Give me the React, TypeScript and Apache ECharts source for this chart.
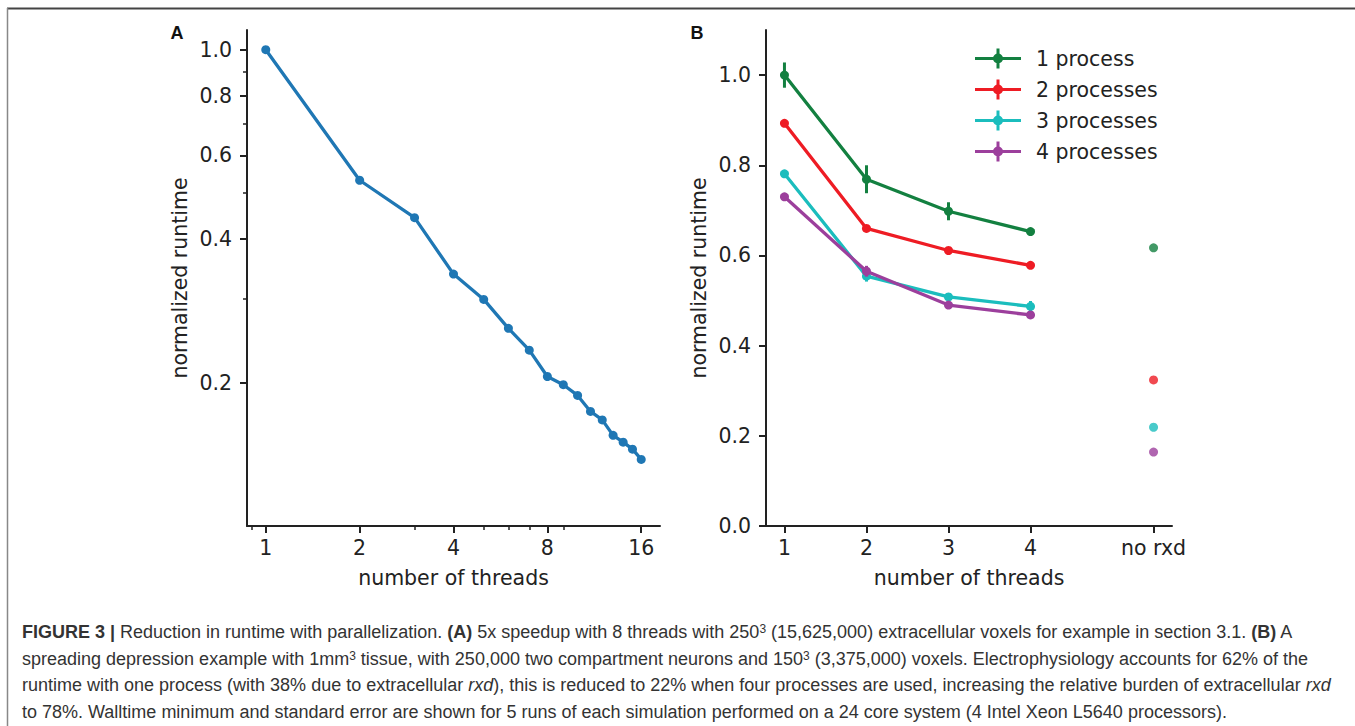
import React, { useEffect, useRef } from 'react';
import * as echarts from 'echarts';

// ---------- Panel A data (log-log) ----------
const threadsA = [1, 2, 3, 4, 5, 6, 7, 8, 9, 10, 11, 12, 13, 14, 15, 16];
const runtimeA = [1.0, 0.532, 0.444, 0.338, 0.299, 0.26, 0.234, 0.206, 0.198, 0.188, 0.174, 0.167, 0.155, 0.15, 0.145, 0.138];
const xTicksA = [1, 2, 4, 8, 16];
const xMinorA = [0.9, 3, 5, 6, 7, 9];
const yTicksA = [0.2, 0.4, 0.6, 0.8, 1.0];
const yMinorA = [0.3, 0.5, 0.7, 0.9];

// ---------- Panel B data ----------
const threadsB = [1, 2, 3, 4];
const noRxdX = 5.5;
const xTicksB = [1, 2, 3, 4, 5.5];
const xLabelsB = ['1', '2', '3', '4', 'no rxd'];
const yTicksB = [0, 0.2, 0.4, 0.6, 0.8, 1.0];
const seriesNames = ['1 process', '2 processes', '3 processes', '4 processes'];
const seriesColors = ['#138040', '#ee1c24', '#1bbdbd', '#9c3f9c'];
const proc1 = [1.0, 0.769, 0.698, 0.653];
const proc2 = [0.893, 0.66, 0.611, 0.578];
const proc3 = [0.781, 0.554, 0.508, 0.487];
const proc4 = [0.73, 0.565, 0.49, 0.468];
const err1 = [0.028, 0.031, 0.02, 0.004];
const err2 = [0.004, 0.004, 0.004, 0.004];
const err3 = [0.004, 0.012, 0.008, 0.012];
const err4 = [0.004, 0.012, 0.005, 0.005];
const noRxd = [0.617, 0.324, 0.219, 0.164];

const captionLines = [
  '{b|FIGURE 3 |} Reduction in runtime with parallelization. {b|(A)} 5x speedup with 8 threads with 250{sup|3} (15,625,000) extracellular voxels for example in section 3.1. {b|(B)} A',
  'spreading depression example with 1mm{sup|3} tissue, with 250,000 two compartment neurons and 150{sup|3} (3,375,000) voxels. Electrophysiology accounts for 62% of the',
  'runtime with one process (with 38% due to extracellular {i|rxd}), this is reduced to 22% when four processes are used, increasing the relative burden of extracellular {i|rxd}',
  'to 78%. Walltime minimum and standard error are shown for 5 runs of each simulation performed on a 24 core system (4 Intel Xeon L5640 processors).',
];

const FONT = 'DejaVu Sans';
const CAP_FONT = 'Liberation Sans';
const CAP_FS = 18;
const FS = 20.5;
const INK = '#222';

const procs = [proc1, proc2, proc3, proc4];
const errs = [err1, err2, err3, err4];

const legendIcon =
  'path://M0 8.5H46V11.5H0Z M21.5 0H24.5V20H21.5Z M18 10A5 5 0 1 1 28 10A5 5 0 1 1 18 10Z';

function axisBase(extra: any) {
  return {
    splitLine: { show: false },
    axisLine: { show: true, onZero: false, lineStyle: { color: INK, width: 2 } },
    nameTextStyle: { fontFamily: FONT, fontSize: FS, color: INK },
    ...extra,
  };
}

function buildOption() {
  const capRich = {
    b: { fontFamily: CAP_FONT, fontSize: CAP_FS, fontWeight: 'bold', color: '#222' },
    i: { fontFamily: CAP_FONT, fontSize: CAP_FS, fontStyle: 'italic', color: '#333' },
    sup: { fontFamily: CAP_FONT, fontSize: 12, color: '#333', verticalAlign: 'top', lineHeight: 12 },
  };
  const capY = [632, 658.5, 685, 711.5];

  const lineSeries = seriesNames.map((name, k) => ({
    name,
    type: 'line',
    xAxisIndex: 2,
    yAxisIndex: 2,
    data: threadsB.map((t, i) => [t, procs[k][i]]),
    symbol: 'circle',
    symbolSize: 9,
    showSymbol: true,
    color: seriesColors[k],
    lineStyle: { width: 3.3, color: seriesColors[k] },
    itemStyle: { color: seriesColors[k] },
    z: 3 + k,
  }));
  const errSeries = seriesNames.map((name, k) => ({
    name: name + ' error',
    type: 'custom',
    xAxisIndex: 2,
    yAxisIndex: 2,
    encode: { x: 0, y: [1, 2] },
    data: threadsB.map((t, i) => [t, procs[k][i] - errs[k][i], procs[k][i] + errs[k][i]]),
    renderItem: (params: any, api: any) => {
      const p1 = api.coord([api.value(0), api.value(1)]);
      const p2 = api.coord([api.value(0), api.value(2)]);
      return {
        type: 'line',
        shape: { x1: p1[0], y1: p1[1], x2: p2[0], y2: p2[1] },
        style: { stroke: seriesColors[k], lineWidth: 3 },
      };
    },
    z: 3 + k,
  }));
  const noRxdSeries = seriesNames.map((name, k) => ({
    name: name + ' no rxd',
    type: 'scatter',
    xAxisIndex: 2,
    yAxisIndex: 2,
    data: [[noRxdX, noRxd[k]]],
    symbol: 'circle',
    symbolSize: 9,
    itemStyle: { color: seriesColors[k] },
    z: 3 + k,
  }));

  return {
    animation: false,
    backgroundColor: '#fff',
    grid: [
      { left: 247, top: 30, width: 413, height: 496, outerBoundsMode: 'none' },
      { left: 766, top: 30, width: 406, height: 496, outerBoundsMode: 'none' },
    ],
    legend: {
      data: seriesNames.map((n) => ({ name: n, icon: legendIcon })),
      orient: 'vertical',
      left: 970,
      top: 43,
      itemWidth: 46,
      itemHeight: 20,
      itemGap: 10,
      selectedMode: false,
      itemStyle: { borderWidth: 0 },
      textStyle: { fontFamily: FONT, fontSize: FS, color: INK, padding: [0, 0, 0, 10] },
    },
    xAxis: [
      axisBase({
        gridIndex: 0,
        type: 'log',
        logBase: 2,
        min: Math.pow(2, -0.2),
        max: Math.pow(2, 4.2),
        position: 'bottom',
        name: 'number of threads',
        nameLocation: 'middle',
        nameGap: 41,
        axisTick: { show: true, customValues: xTicksA, length: 7, lineStyle: { color: INK, width: 2 } },
        axisLabel: {
          customValues: xTicksA,
          formatter: (v: number) => String(Math.round(v)),
          fontFamily: FONT,
          fontSize: FS,
          color: INK,
          margin: 11,
        },
      }),
      {
        gridIndex: 0,
        type: 'log',
        logBase: 2,
        min: Math.pow(2, -0.2),
        max: Math.pow(2, 4.2),
        position: 'bottom',
        splitLine: { show: false },
        axisLine: { show: false, onZero: false },
        axisLabel: { show: false },
        axisTick: { show: true, customValues: xMinorA, length: 4, lineStyle: { color: INK, width: 1.5 } },
      },
      axisBase({
        gridIndex: 1,
        type: 'value',
        min: 0.775,
        max: 5.725,
        position: 'bottom',
        name: 'number of threads',
        nameLocation: 'middle',
        nameGap: 41,
        axisTick: { show: true, customValues: xTicksB, length: 7, lineStyle: { color: INK, width: 2 } },
        axisLabel: {
          customValues: xTicksB,
          formatter: (v: number) => {
            const idx = xTicksB.findIndex((t) => Math.abs(t - v) < 1e-6);
            return idx >= 0 ? xLabelsB[idx] : '';
          },
          fontFamily: FONT,
          fontSize: FS,
          color: INK,
          margin: 11,
        },
      }),
    ],
    yAxis: [
      axisBase({
        gridIndex: 0,
        type: 'log',
        logBase: 10,
        min: 0.1,
        max: 1.1,
        position: 'left',
        name: 'normalized runtime',
        nameLocation: 'middle',
        nameGap: 57,
        axisTick: { show: true, customValues: yTicksA, length: 7, lineStyle: { color: INK, width: 2 } },
        axisLabel: {
          customValues: yTicksA,
          formatter: (v: number) => v.toFixed(1),
          fontFamily: FONT,
          fontSize: FS,
          color: INK,
          margin: 15,
        },
      }),
      {
        gridIndex: 0,
        type: 'log',
        logBase: 10,
        min: 0.1,
        max: 1.1,
        position: 'left',
        splitLine: { show: false },
        axisLine: { show: false, onZero: false },
        axisLabel: { show: false },
        axisTick: { show: true, customValues: yMinorA, length: 4, lineStyle: { color: INK, width: 1.5 } },
      },
      axisBase({
        gridIndex: 1,
        type: 'value',
        min: 0,
        max: 1.1,
        position: 'left',
        name: 'normalized runtime',
        nameLocation: 'middle',
        nameGap: 57,
        axisTick: { show: true, customValues: yTicksB, length: 7, lineStyle: { color: INK, width: 2 } },
        axisLabel: {
          customValues: yTicksB,
          formatter: (v: number) => v.toFixed(1),
          fontFamily: FONT,
          fontSize: FS,
          color: INK,
          margin: 15,
        },
      }),
    ],
    series: [
      {
        name: 'runtime A',
        type: 'line',
        xAxisIndex: 0,
        yAxisIndex: 0,
        data: threadsA.map((t, i) => [t, runtimeA[i]]),
        symbol: 'circle',
        symbolSize: 9,
        color: '#1f77b4',
        lineStyle: { width: 3.3, color: '#1f77b4' },
        itemStyle: { color: '#1f77b4' },
      },
      ...lineSeries,
      ...errSeries,
      ...noRxdSeries,
    ],
    graphic: [
      { type: 'line', shape: { x1: 7, y1: 8.5, x2: 1355, y2: 8.5 }, style: { stroke: '#444', lineWidth: 2 } },
      { type: 'line', shape: { x1: 7.5, y1: 8, x2: 7.5, y2: 726 }, style: { stroke: '#888', lineWidth: 1.5 } },
      {
        type: 'text',
        x: 177,
        y: 33,
        style: { text: 'A', fontFamily: CAP_FONT, fontWeight: 'bold', fontSize: 18, fill: '#111', align: 'center', verticalAlign: 'middle' },
      },
      {
        type: 'text',
        x: 697,
        y: 33,
        style: { text: 'B', fontFamily: CAP_FONT, fontWeight: 'bold', fontSize: 18, fill: '#111', align: 'center', verticalAlign: 'middle' },
      },
      ...captionLines.map((t, i) => ({
        type: 'text',
        x: 22,
        y: capY[i],
        style: {
          text: t,
          fontFamily: CAP_FONT,
          fontSize: CAP_FS,
          fill: '#333',
          verticalAlign: 'middle',
          rich: capRich,
        },
      })),
    ],
  };
}

export default function App() {
  const ref = useRef<HTMLDivElement>(null);
  useEffect(() => {
    if (!ref.current) return;
    const chart = echarts.init(ref.current, null, { renderer: 'svg' });
    chart.setOption(buildOption() as any);
    return () => chart.dispose();
  }, []);
  return (
    <div
      ref={ref}
      style={{ position: 'fixed', left: 0, top: 0, width: 1355, height: 726, background: '#fff' }}
    />
  );
}
